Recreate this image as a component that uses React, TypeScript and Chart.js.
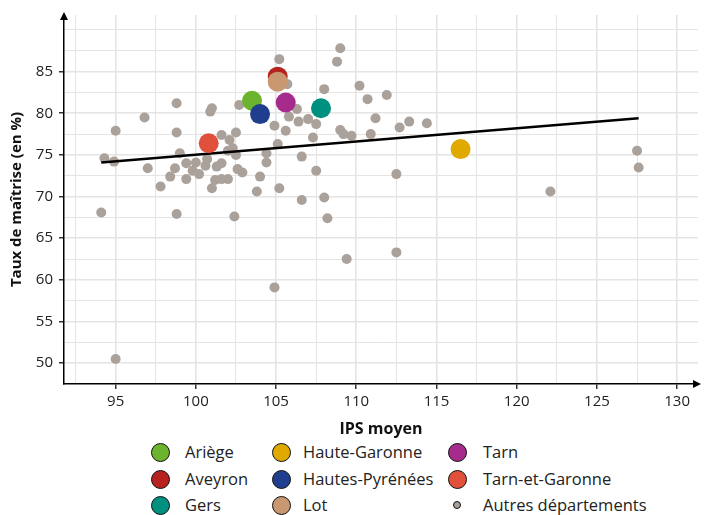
import React, { useEffect, useRef } from "react";
import { Chart, registerables } from "chart.js";

Chart.register(...registerables);

// ---- Data ----
const departements = [
  "Ariège",
  "Aveyron",
  "Gers",
  "Haute-Garonne",
  "Hautes-Pyrénées",
  "Lot",
  "Tarn",
  "Tarn-et-Garonne",
];
const depIPS = [103.5, 105.1, 107.8, 116.5, 104.0, 105.1, 105.6, 100.8];
const depTaux = [81.5, 84.4, 80.6, 75.7, 79.9, 83.8, 81.3, 76.4];
const depColors = [
  "#6cb42e",
  "#b5221f",
  "#009080",
  "#e0a900",
  "#1f3f8e",
  "#c99871",
  "#a62b8c",
  "#e1503a",
];

const autresLabel = "Autres départements";
const autresColor = "#aba19b";
const autresIPS = [
  94.1, 94.3, 94.9, 95.0, 95.0, 96.8, 97.0, 97.8, 98.8, 98.8, 98.8, 99.0, 98.7, 98.4,
  99.4, 99.4, 100.0, 99.8, 100.2, 100.7, 100.6, 101.0, 100.9, 101.0, 101.2, 101.6, 102.0,
  101.3, 101.6, 101.6, 102.1, 102.5, 102.3, 102.0, 102.5, 102.6, 102.9, 102.4, 102.7, 104.0,
  103.8, 104.4, 104.4, 104.9, 105.1, 105.2, 105.2, 105.7, 104.9, 105.8, 105.6, 106.3, 106.4,
  107.0, 107.5, 107.3, 106.6, 107.5, 106.6, 108.0, 108.2, 108.0, 108.8, 109.0, 109.0, 109.2,
  109.7, 109.4, 110.2, 110.7, 111.9, 111.2, 110.9, 112.7, 113.3, 114.4, 112.5, 112.5, 122.1,
  127.5, 127.6,
];
const autresTaux = [
  68.1, 74.6, 74.2, 77.9, 50.5, 79.5, 73.4, 71.2, 81.2, 77.7, 67.9, 75.2, 73.4, 72.4,
  74.0, 72.1, 74.1, 73.1, 72.7, 74.5, 73.7, 80.6, 80.2, 71.0, 72.0, 72.1, 72.1,
  73.6, 74.0, 77.4, 76.8, 77.7, 75.8, 75.5, 75.0, 73.3, 72.9, 67.6, 81.0, 72.4,
  70.6, 75.2, 74.1, 78.5, 76.3, 71.0, 86.5, 83.5, 59.1, 79.6, 77.9, 80.5, 79.0,
  79.3, 78.7, 77.1, 74.8, 73.1, 69.6, 69.9, 67.4, 82.9, 86.2, 87.8, 78.0, 77.5,
  77.3, 62.5, 83.3, 81.7, 82.2, 79.4, 77.5, 78.3, 79.0, 78.8, 72.7, 63.3, 70.6,
  75.5, 73.5,
];

const tendanceIPS = [94.1, 127.6];
const tendanceTaux = [74.1, 79.4];

const xGrid = [92.5, 95, 97.5, 100, 102.5, 105, 107.5, 110, 112.5, 115, 117.5, 120, 122.5, 125, 127.5, 130];
const xLabels = [95, 100, 105, 110, 115, 120, 125, 130];
const yGrid = [50, 52.5, 55, 57.5, 60, 62.5, 65, 67.5, 70, 72.5, 75, 77.5, 80, 82.5, 85, 87.5, 90];
const yLabels = [50, 55, 60, 65, 70, 75, 80, 85];

const xTitle = "IPS moyen";
const yTitle = "Taux de maîtrise (en %)";

const FONT = "'Open Sans', Lato, sans-serif";

const arrowPlugin = {
  id: "axisArrows",
  afterDraw(chart: any) {
    const { ctx, chartArea } = chart;
    ctx.save();
    ctx.fillStyle = "#000";
    ctx.beginPath();
    ctx.moveTo(chartArea.left, chartArea.top - 3);
    ctx.lineTo(chartArea.left - 4, chartArea.top + 5);
    ctx.lineTo(chartArea.left + 4, chartArea.top + 5);
    ctx.closePath();
    ctx.fill();
    ctx.beginPath();
    ctx.moveTo(chartArea.right + 3, chartArea.bottom);
    ctx.lineTo(chartArea.right - 5, chartArea.bottom - 4);
    ctx.lineTo(chartArea.right - 5, chartArea.bottom + 4);
    ctx.closePath();
    ctx.fill();
    ctx.restore();
  },
};

const gridColor = "#e4e4e4";

export default function App() {
  const canvasRef = useRef<HTMLCanvasElement | null>(null);

  useEffect(() => {
    document.body.style.margin = "0";
    const canvas = canvasRef.current;
    if (!canvas) return;
    const chart = new Chart(canvas, {
      type: "scatter",
      data: {
        datasets: [
          {
            label: "departements",
            data: depIPS.map((x, i) => ({ x, y: depTaux[i] })),
            backgroundColor: depColors,
            borderWidth: 0,
            pointRadius: 10,
            order: 0,
          } as any,
          {
            type: "line",
            label: "tendance",
            data: tendanceIPS.map((x, i) => ({ x, y: tendanceTaux[i] })),
            borderColor: "#000",
            borderWidth: 2.6,
            pointRadius: 0,
            fill: false,
            order: 1,
          } as any,
          {
            label: autresLabel,
            data: autresIPS.map((x, i) => ({ x, y: autresTaux[i] })),
            backgroundColor: autresColor,
            borderWidth: 0,
            pointRadius: 5,
            order: 2,
          } as any,
        ],
      },
      options: {
        responsive: false,
        animation: false,
        devicePixelRatio: 1,
        layout: { padding: { top: 15, right: 2, left: 0, bottom: 0 } },
        plugins: {
          legend: { display: false },
          tooltip: { enabled: false },
        },
        scales: {
          x: {
            type: "linear",
            min: 91.78,
            max: 131.3,
            afterBuildTicks: (scale: any) => {
              scale.ticks = xGrid.map((v) => ({ value: v }));
            },
            afterFit: (scale: any) => {
              scale.height = 56;
              scale.paddingLeft = 0;
              scale.paddingRight = 0;
            },
            grid: {
              color: gridColor,
              lineWidth: (c: any) => (c.tick && xLabels.includes(c.tick.value) ? 1.6 : 1),
              tickColor: (c: any) => (c.tick && xLabels.includes(c.tick.value) ? "#000" : "rgba(0,0,0,0)"),
              tickWidth: 1.2,
              tickLength: 5,
              drawTicks: true,
            },
            border: { display: true, color: "#000", width: 1.5 },
            ticks: {
              autoSkip: false,
              maxRotation: 0,
              padding: 4,
              color: "#222",
              font: { family: FONT, size: 15 },
              callback: (v: any) => (xLabels.includes(Number(v)) ? String(v) : ""),
            },
            title: {
              display: true,
              text: xTitle,
              color: "#111",
              font: { family: FONT, size: 16, weight: "bold" },
              padding: { top: 2, bottom: 1 },
            },
          },
          y: {
            type: "linear",
            min: 47.5,
            max: 91.8,
            afterBuildTicks: (scale: any) => {
              scale.ticks = yGrid.map((v) => ({ value: v }));
            },
            afterFit: (scale: any) => {
              scale.width = 64;
              scale.paddingTop = 0;
              scale.paddingBottom = 0;
            },
            grid: {
              color: gridColor,
              lineWidth: (c: any) => (c.tick && yLabels.includes(c.tick.value) ? 1.6 : 1),
              tickColor: (c: any) => (c.tick && yLabels.includes(c.tick.value) ? "#000" : "rgba(0,0,0,0)"),
              tickWidth: 1.2,
              tickLength: 5,
              drawTicks: true,
            },
            border: { display: true, color: "#000", width: 1.5 },
            ticks: {
              autoSkip: false,
              padding: 6,
              color: "#222",
              font: { family: FONT, size: 15 },
              callback: (v: any) => (yLabels.includes(Number(v)) ? String(v) : ""),
            },
            title: {
              display: true,
              text: yTitle,
              color: "#111",
              font: { family: FONT, size: 15, weight: "bold" },
              padding: { top: 8, bottom: 0 },
            },
          },
        },
      },
      plugins: [arrowPlugin],
    } as any);
    return () => chart.destroy();
  }, []);

  const legendItems = [
    ...departements.map((d, i) => ({ label: d, color: depColors[i], big: true })),
    { label: autresLabel, color: autresColor, big: false },
  ];
  const colCircleX = [160, 281, 457];
  const colTextX = [185, 303, 483];
  const rowY = [12, 39, 65];

  return (
    <div style={{ position: "relative", width: 708, height: 515, fontFamily: FONT }}>
      <canvas ref={canvasRef} width={708} height={440} style={{ display: "block" }} />
      <div style={{ position: "absolute", left: 0, top: 440, width: 708, height: 75 }}>
        {legendItems.map((it, i) => {
          const col = Math.floor(i / 3);
          const row = i % 3;
          const r = it.big ? 9.5 : 4;
          return (
            <React.Fragment key={it.label}>
              <div
                style={{
                  position: "absolute",
                  left: colCircleX[col] - r,
                  top: rowY[row] - r,
                  width: r * 2,
                  height: r * 2,
                  boxSizing: "border-box",
                  borderRadius: "50%",
                  background: it.color,
                  border: "1.5px solid #111",
                }}
              />
              <div
                style={{
                  position: "absolute",
                  left: colTextX[col],
                  top: rowY[row] - 11,
                  height: 22,
                  lineHeight: "22px",
                  fontSize: 16.5,
                  color: "#222",
                  whiteSpace: "nowrap",
                }}
              >
                {it.label}
              </div>
            </React.Fragment>
          );
        })}
      </div>
    </div>
  );
}
